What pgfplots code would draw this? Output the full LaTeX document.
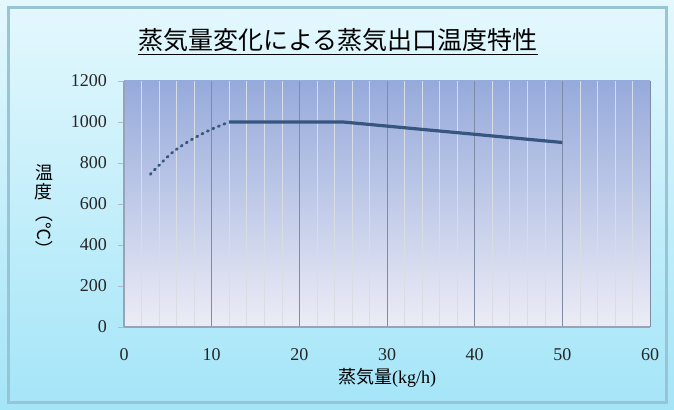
\documentclass[border=0pt]{standalone}
\usepackage{pgfplots}
\pgfplotsset{compat=1.18}
\usepackage{fontspec}
\setmainfont{Liberation Serif}
\newfontfamily\cjk{Noto Sans CJK JP}
\definecolor{outtop}{HTML}{E4F8FD}
\definecolor{outbot}{HTML}{A4E5F8}
\definecolor{outline}{HTML}{98C4D6}
\definecolor{plottop}{HTML}{96AADB}
\definecolor{plotbot}{HTML}{ECECF6}
\definecolor{serie}{HTML}{36567F}
\definecolor{gridc}{HTML}{7F8CA6}
\begin{document}
\begin{tikzpicture}[x=1bp,y=1bp]
\shade[top color=outtop,bottom color=outbot] (0,0) rectangle (337,205);
\draw[outline,line width=1.5bp] (4,4) rectangle (333,201);
\node[font=\cjk\fontsize{12.5bp}{14bp}\selectfont,inner sep=0pt] at (169,184) {\underline{蒸気量変化による蒸気出口温度特性}};
\begin{axis}[
  at={(62bp,41.5bp)}, anchor=south west,
  scale only axis, width=263bp, height=123bp,
  xmin=0, xmax=60, ymin=0, ymax=1200,
  xtick={0,10,...,60}, ytick={0,200,...,1200},
  minor x tick num=4,
  xmajorgrids, xminorgrids,
  major grid style={gridc, line width=0.5bp},
  minor grid style={gridc!30, line width=0.3bp},
  axis line style={gridc!80, line width=0.6bp},
  axis x line*=bottom, axis y line*=left,
  tick align=outside,
  major tick length=3bp, minor tick length=0pt,
  tick style={gridc!70},
  ytick style={gridc!60},
  xtick style={draw=none},
  every tick label/.append style={font=\fontsize{9bp}{10bp}\selectfont, text=black!85},
  /pgf/number format/assume math mode=true,
  /pgf/number format/1000 sep={},
  xticklabel style={yshift=-4bp},
  yticklabel style={xshift=-2bp},
  axis background/.style={shade, top color=plottop, bottom color=plotbot},
  xlabel={\cjk 蒸気量\rmfamily(kg/h)},
  xlabel style={font=\fontsize{9bp}{10bp}\selectfont, at={(axis description cs:0.5,0)}, anchor=north, yshift=-17bp},
  ylabel={\shortstack[c]{\cjk 温\\[-1.5bp]\cjk 度\\[-1bp]\rotatebox{-90}{\cjk（℃）}}},
  ylabel style={font=\fontsize{9bp}{10bp}\selectfont, rotate=-90, at={(axis description cs:0,0.47)}, anchor=center, xshift=-40bp},
  clip=false,
]
\addplot[serie, line width=1.4bp, dash pattern=on 0.6bp off 2.4bp, line cap=round, smooth] coordinates {
  (3,745) (5.4,847) (7.5,909) (9.8,961) (12,1000)
};
\addplot[serie, line width=1.6bp] coordinates {
  (12,1000) (25,1000) (50,900)
};
\end{axis}
\end{tikzpicture}
\end{document}
